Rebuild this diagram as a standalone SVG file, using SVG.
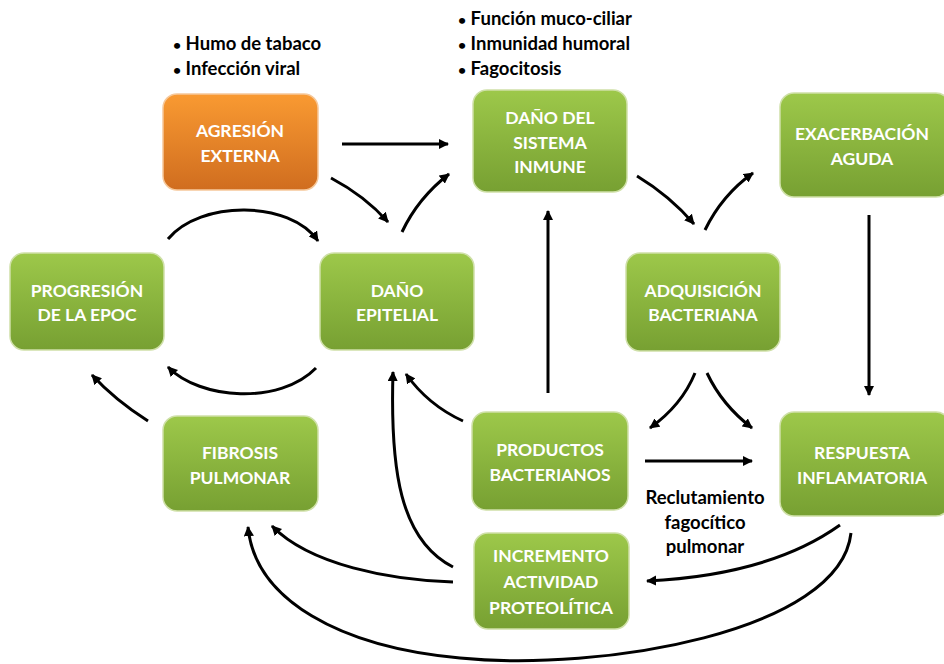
<svg xmlns="http://www.w3.org/2000/svg" width="944" height="664" viewBox="0 0 944 664">
<defs>
<linearGradient id="gGreen" x1="0" y1="0" x2="0" y2="1">
<stop offset="0" stop-color="#9dc84a"/>
<stop offset="1" stop-color="#77a032"/>
</linearGradient>
<linearGradient id="gOrange" x1="0" y1="0" x2="0" y2="1">
<stop offset="0" stop-color="#f99a32"/>
<stop offset="1" stop-color="#d06d1f"/>
</linearGradient>
<marker id="arr" viewBox="0 0 10 10" refX="9" refY="5" markerWidth="3.4" markerHeight="3.4" orient="auto" markerUnits="strokeWidth">
<path d="M0,0 L10,5 L0,10 Z" fill="#000"/>
</marker>
<style>
.box{stroke:#cfe0a8;stroke-width:1.5}
.obox{stroke:#f6c89a;stroke-width:1.5}
.nt{font-family:Lato,"Open Sans","Liberation Sans",sans-serif;font-weight:bold;font-size:17.5px;fill:#fff;text-anchor:middle}
.lt{font-family:Lato,"Open Sans","Liberation Sans",sans-serif;font-weight:bold;font-size:18.5px;fill:#000}
.c{fill:none;stroke:#000;stroke-width:3;marker-end:url(#arr)}
</style>
</defs>
<rect width="944" height="664" fill="#fff"/>

<g id="labels">
<text class="lt" x="173" y="50"><tspan font-size="14">•</tspan> Humo de tabaco</text>
<text class="lt" x="173" y="75"><tspan font-size="14">•</tspan> Infección viral</text>
<text class="lt" x="458" y="25"><tspan font-size="14">•</tspan> Función muco-ciliar</text>
<text class="lt" x="458" y="50"><tspan font-size="14">•</tspan> Inmunidad humoral</text>
<text class="lt" x="458" y="75"><tspan font-size="14">•</tspan> Fagocitosis</text>
<text class="lt" x="705" y="504" text-anchor="middle">Reclutamiento</text>
<text class="lt" x="705" y="529" text-anchor="middle">fagocítico</text>
<text class="lt" x="705" y="553" text-anchor="middle">pulmonar</text>
</g>

<g id="connectors">
<path class="c" d="M342,144 L448,144"/>
<path class="c" d="M331,178 Q365,196 388,222"/>
<path class="c" d="M402,232 Q418,198 449,174"/>
<path class="c" d="M637,176 Q670,196 694,224"/>
<path class="c" d="M705,230 Q722,195 753,173"/>
<path class="c" d="M869,215 L869,395"/>
<path class="c" d="M695,373 Q682,405 650,428"/>
<path class="c" d="M707,373 Q722,405 752,428"/>
<path class="c" d="M645,461 L752,461"/>
<path class="c" d="M548,393 L548,211"/>
<path class="c" d="M463,421 Q428,405 406,374"/>
<path class="c" d="M840,525 Q770,575 647,581"/>
<path class="c" d="M851,533 C840,632 600,672 460,658 C340,647 255,600 248,527"/>
<path class="c" d="M453,582 C390,580 310,565 272,526"/>
<path class="c" d="M453,567 C400,540 390,470 393,372"/>
<path class="c" d="M168,239 C200,200 290,200 318,241"/>
<path class="c" d="M316,368 C280,405 200,400 168,367"/>
<path class="c" d="M148,421 Q115,400 92,375"/>
</g>

<g id="agresion">
<rect class="obox" x="163" y="94" width="155" height="96" rx="14" fill="url(#gOrange)"/>
<text class="nt" x="240" y="137">AGRESIÓN</text>
<text class="nt" x="240" y="162">EXTERNA</text>
</g>
<g id="sistema">
<rect class="box" x="473" y="90" width="154" height="102" rx="14" fill="url(#gGreen)"/>
<text class="nt" x="550" y="124">DAÑO DEL</text>
<text class="nt" x="550" y="149">SISTEMA</text>
<text class="nt" x="550" y="173">INMUNE</text>
</g>
<g id="exacerbacion">
<rect class="box" x="780" y="93" width="170" height="104" rx="14" fill="url(#gGreen)"/>
<text class="nt" x="862" y="140">EXACERBACIÓN</text>
<text class="nt" x="862" y="165">AGUDA</text>
</g>
<g id="progresion">
<rect class="box" x="10" y="253" width="154" height="97" rx="14" fill="url(#gGreen)"/>
<text class="nt" x="87" y="297">PROGRESIÓN</text>
<text class="nt" x="87" y="321">DE LA EPOC</text>
</g>
<g id="epitelial">
<rect class="box" x="320" y="253" width="154" height="97" rx="14" fill="url(#gGreen)"/>
<text class="nt" x="397" y="297">DAÑO</text>
<text class="nt" x="397" y="321">EPITELIAL</text>
</g>
<g id="adquisicion">
<rect class="box" x="626" y="253" width="154" height="98" rx="14" fill="url(#gGreen)"/>
<text class="nt" x="703" y="297">ADQUISICIÓN</text>
<text class="nt" x="703" y="321">BACTERIANA</text>
</g>
<g id="fibrosis">
<rect class="box" x="163" y="416" width="155" height="95" rx="14" fill="url(#gGreen)"/>
<text class="nt" x="240" y="459">FIBROSIS</text>
<text class="nt" x="240" y="484">PULMONAR</text>
</g>
<g id="productos">
<rect class="box" x="472" y="412" width="156" height="98" rx="14" fill="url(#gGreen)"/>
<text class="nt" x="550" y="456">PRODUCTOS</text>
<text class="nt" x="550" y="481">BACTERIANOS</text>
</g>
<g id="respuesta">
<rect class="box" x="780" y="412" width="170" height="104" rx="14" fill="url(#gGreen)"/>
<text class="nt" x="862" y="459">RESPUESTA</text>
<text class="nt" x="862" y="484">INFLAMATORIA</text>
</g>
<g id="incremento">
<rect class="box" x="474" y="533" width="155" height="96" rx="14" fill="url(#gGreen)"/>
<text class="nt" x="551" y="562">INCREMENTO</text>
<text class="nt" x="551" y="588">ACTIVIDAD</text>
<text class="nt" x="551" y="614">PROTEOLÍTICA</text>
</g>
</svg>
